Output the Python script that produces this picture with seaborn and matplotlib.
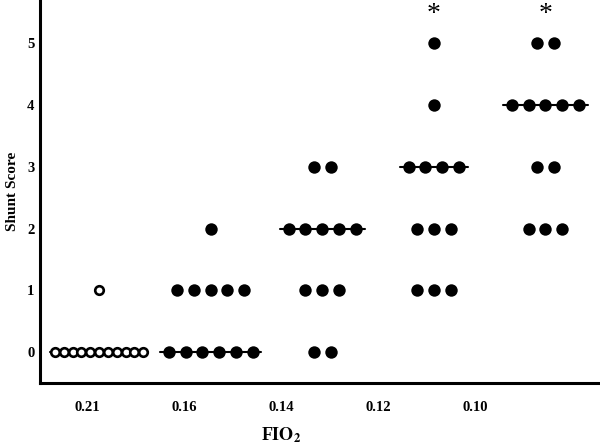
import numpy as np
import pandas as pd
import matplotlib
matplotlib.use('Agg')
import matplotlib.pyplot as plt
import seaborn as sns

# Datos
fio2_labels = ['0.21', '0.16', '0.14', '0.12', '0.10']
score_levels = [0, 1, 2, 3, 4, 5]
counts_021 = [11, 1, 0, 0, 0, 0]
counts_016 = [6, 5, 1, 0, 0, 0]
counts_014 = [2, 3, 5, 2, 0, 0]
counts_012 = [0, 3, 3, 4, 1, 1]
counts_010 = [0, 0, 3, 2, 5, 2]
medians = [0, 0, 2, 3, 4]
significant = ['0.12', '0.10']

all_counts = [counts_021, counts_016, counts_014, counts_012, counts_010]

sns.set_style('white', {'text.color': 'black', 'axes.labelcolor': 'black',
                        'xtick.color': 'black', 'ytick.color': 'black'})
plt.rcParams['font.family'] = ['Liberation Serif', 'DejaVu Serif']
plt.rcParams['font.weight'] = 'bold'
plt.rcParams['mathtext.fontset'] = 'stix'

# Construir tabla de puntos (fila de puntos centrada en cada nivel)
rows = []
for gi, counts in enumerate(all_counts):
    step = 0.079 if gi == 0 else 0.15
    for score, n in zip(score_levels, counts):
        for j in range(n):
            rows.append({'group': gi, 'x': gi + (j - (n - 1) / 2) * step,
                         'score': score, 'open': gi == 0})
df = pd.DataFrame(rows)

fig = plt.figure(figsize=(6, 4.48), dpi=100)
ax = fig.add_axes([40 / 600, 65 / 448, 560 / 600, 383 / 448])

sns.scatterplot(data=df[df['open']], x='x', y='score', ax=ax, s=38,
                facecolor='white', edgecolor='black', linewidth=1.9,
                zorder=3, legend=False)
sns.scatterplot(data=df[~df['open']], x='x', y='score', ax=ax, s=80,
                color='black', edgecolor='black', linewidth=0,
                zorder=3, legend=False)

# Líneas de mediana
for gi, (med, counts) in enumerate(zip(medians, all_counts)):
    step = 0.079 if gi == 0 else 0.15
    n = counts[score_levels.index(med)]
    half = (n - 1) / 2 * step + (0.045 if gi == 0 else 0.08)
    ax.plot([gi - half, gi + half], [med, med], color='black', lw=1.5, zorder=2)

# Asteriscos de significancia
for lab in significant:
    ax.text(fio2_labels.index(lab), 5.47, '*', ha='center', va='center',
            fontsize=20, fontweight='normal', color='black')

ax.set_xlim(-0.53, 4.49)
ax.set_ylim(-0.5, 5.7)

tick_pos = [-0.108 + i * 0.87 for i in range(len(fio2_labels))]
ax.set_xticks(tick_pos)
ax.set_xticklabels(fio2_labels, fontsize=10.5, fontweight='bold')
ax.set_yticks(score_levels)
ax.set_yticklabels([str(v) for v in score_levels], fontsize=10.5, fontweight='bold')
ax.tick_params(axis='x', direction='in', length=7, width=2, pad=13, colors='black')
ax.tick_params(axis='y', direction='in', length=7, width=2, pad=4, colors='black')

for side in ['top', 'right']:
    ax.spines[side].set_visible(False)
for side in ['left', 'bottom']:
    ax.spines[side].set_linewidth(2.2)
    ax.spines[side].set_color('black')

ax.set_xlabel('')
ax.set_ylabel('Shunt Score', fontsize=11, fontweight='bold', labelpad=6, color='black')
ax.text(np.mean([tick_pos[0], tick_pos[-1]]), -1.35, r'F$\mathrm{IO}_2$',
        ha='center', va='center', fontsize=13, color='black')

fig.savefig('out.png', dpi=100)
